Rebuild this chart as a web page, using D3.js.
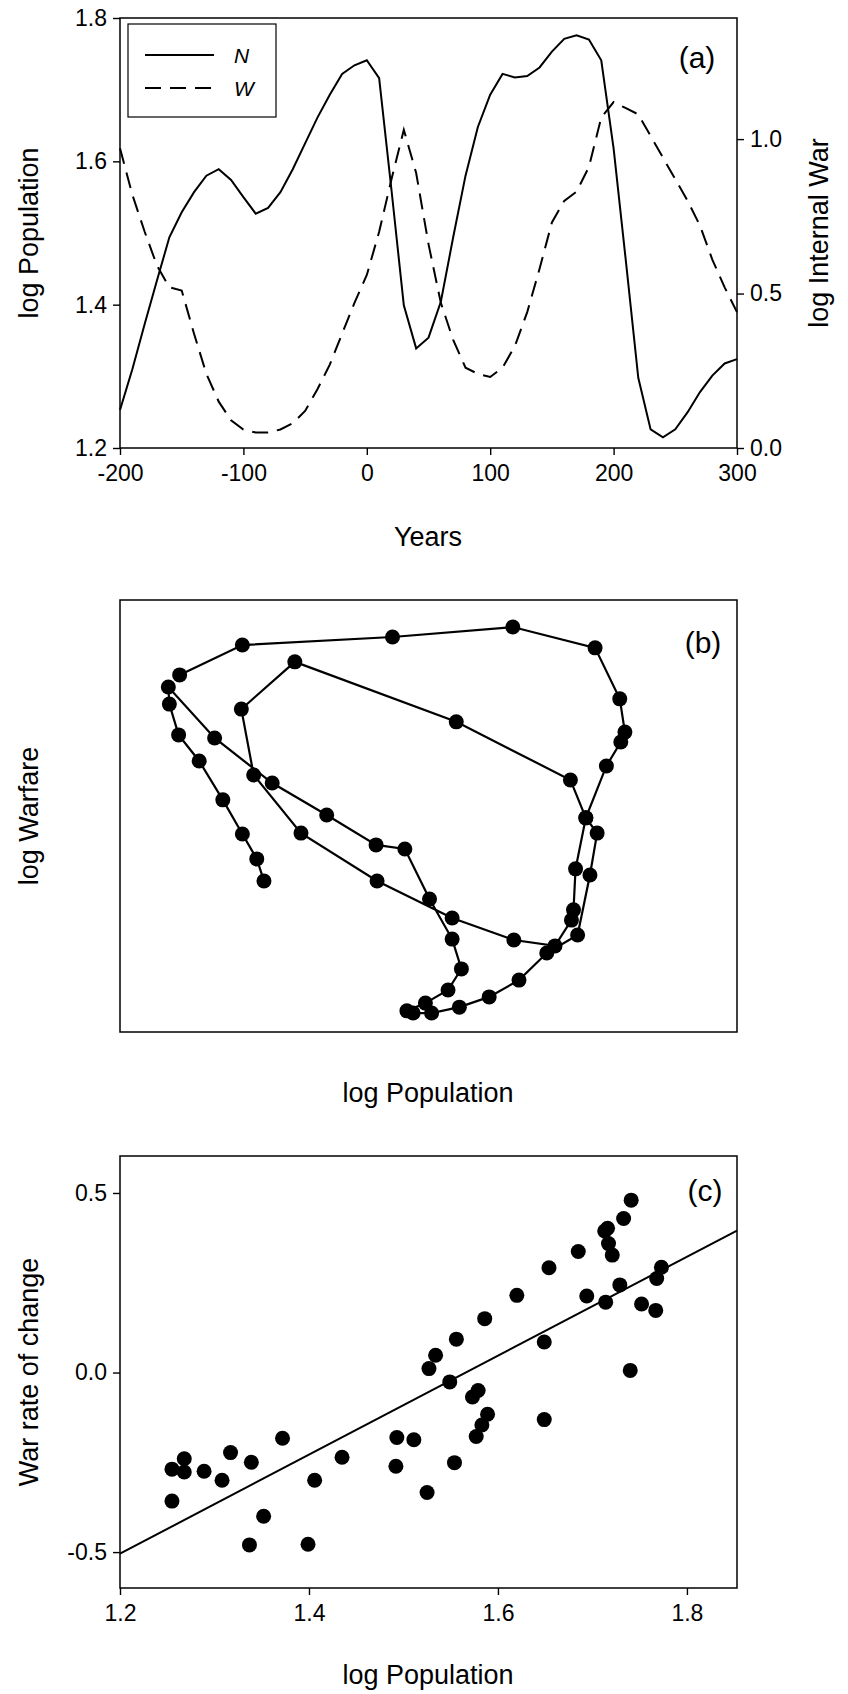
<!DOCTYPE html>
<html>
<head>
<meta charset="utf-8">
<script src="https://cdn.jsdelivr.net/npm/d3@7"></script>
<style>
  body { margin: 0; background: #fff; }
  text { font-family: "Liberation Sans", Arial, sans-serif; fill: #000; }
</style>
</head>
<body>
<script>
const width = 848, height = 1694;

// panel (a): time series, every 10 years
const years = d3.range(-200, 301, 10);
const logN = [1.253, 1.31, 1.373, 1.434, 1.494, 1.529, 1.557, 1.58, 1.589, 1.574,
  1.55, 1.527, 1.535, 1.557, 1.589, 1.625, 1.661, 1.693, 1.722, 1.734,
  1.741, 1.716, 1.56, 1.399, 1.339, 1.354, 1.404, 1.494, 1.58, 1.648,
  1.693, 1.722, 1.717, 1.719, 1.731, 1.753, 1.771, 1.776, 1.77, 1.741,
  1.618, 1.46, 1.298, 1.226, 1.215, 1.226, 1.25, 1.278, 1.301, 1.318, 1.324];
const logW = [0.97, 0.82, 0.70, 0.59, 0.52, 0.51, 0.37, 0.24, 0.15, 0.09,
  0.06, 0.05, 0.05, 0.06, 0.08, 0.12, 0.19, 0.27, 0.37, 0.47,
  0.56, 0.70, 0.87, 1.03, 0.89, 0.66, 0.47, 0.35, 0.26, 0.24,
  0.23, 0.26, 0.33, 0.44, 0.58, 0.73, 0.80, 0.83, 0.91, 1.07,
  1.12, 1.10, 1.08, 1.01, 0.94, 0.87, 0.80, 0.72, 0.61, 0.52, 0.44];
const yearTicks = [-200, -100, 0, 100, 200, 300];
const popTicks = [1.2, 1.4, 1.6, 1.8];
const warTicks = [0.0, 0.5, 1.0];

// panel (b): phase plot, in trajectory order
const phaseN = [1.340, 1.333, 1.319, 1.300, 1.277, 1.257, 1.248, 1.247, 1.292, 1.348,
  1.401, 1.449, 1.477, 1.501, 1.523, 1.532, 1.519, 1.497, 1.479, 1.485,
  1.503, 1.530, 1.559, 1.588, 1.615, 1.645, 1.657, 1.664, 1.653, 1.638,
  1.527, 1.370, 1.318, 1.330, 1.376, 1.450, 1.523, 1.583, 1.623, 1.639,
  1.641, 1.643, 1.653, 1.673, 1.687, 1.691, 1.686, 1.662, 1.582, 1.465,
  1.319, 1.258];
const phaseW = [0.486, 0.557, 0.637, 0.747, 0.872, 0.956, 1.055, 1.110, 0.946, 0.801,
  0.698, 0.602, 0.589, 0.428, 0.299, 0.203, 0.135, 0.093, 0.068, 0.061,
  0.061, 0.080, 0.113, 0.167, 0.254, 0.312, 0.505, 0.640, 0.689, 0.811,
  0.998, 1.191, 1.039, 0.827, 0.640, 0.486, 0.367, 0.296, 0.277, 0.360,
  0.393, 0.525, 0.689, 0.856, 0.933, 0.965, 1.072, 1.236, 1.303, 1.271,
  1.245, 1.149];

// panel (c): war rate of change vs population
const scatN = [1.255, 1.255, 1.268, 1.268, 1.289, 1.308, 1.317, 1.339, 1.337, 1.352,
  1.372, 1.399, 1.406, 1.435, 1.492, 1.493, 1.511, 1.525, 1.527, 1.534,
  1.549, 1.554, 1.556, 1.573, 1.579, 1.577, 1.583, 1.589, 1.586, 1.620,
  1.649, 1.649, 1.654, 1.685, 1.694, 1.713, 1.716, 1.717, 1.721, 1.714,
  1.729, 1.733, 1.741, 1.740, 1.752, 1.767, 1.768, 1.773];
const scatR = [-0.269, -0.358, -0.240, -0.277, -0.275, -0.300, -0.223, -0.250, -0.480, -0.400,
  -0.183, -0.478, -0.300, -0.236, -0.261, -0.181, -0.187, -0.334, 0.011, 0.048,
  -0.026, -0.251, 0.093, -0.068, -0.050, -0.178, -0.146, -0.116, 0.150, 0.215,
  0.085, -0.131, 0.292, 0.337, 0.213, 0.394, 0.402, 0.359, 0.327, 0.196,
  0.244, 0.429, 0.480, 0.006, 0.191, 0.173, 0.262, 0.293];
const fitSlope = 1.378, fitIntercept = -2.158;
const rateTicks = [-0.5, 0.0, 0.5];
const nTicksC = [1.2, 1.4, 1.6, 1.8];

const svg = d3.select('body').append('svg')
  .attr('width', width).attr('height', height);

const left = 120, right = 737;
const fmt1 = d => d3.format('.1f')(d).replace('\u2212', '-');
const fmtInt = d => String(d);

function box(g, top, bottom) {
  g.append('rect').attr('x', left).attr('y', top)
    .attr('width', right - left).attr('height', bottom - top)
    .attr('fill', 'none').attr('stroke', '#000').attr('stroke-width', 1.5);
}

function styleAxis(g) {
  g.select('.domain').remove();
  g.selectAll('.tick line').attr('stroke', '#000').attr('stroke-width', 1.4);
  g.selectAll('.tick text').style('font-size', '23px').style('font-family', '"Liberation Sans", Arial, sans-serif');
}

function vLabel(x, y, txt) {
  svg.append('text').attr('transform', `translate(${x},${y}) rotate(-90)`)
    .attr('text-anchor', 'middle').style('font-size', '27px').text(txt);
}
function hLabel(x, y, txt, size) {
  return svg.append('text').attr('x', x).attr('y', y)
    .attr('text-anchor', 'middle').style('font-size', (size || 27) + 'px').text(txt);
}

// ---- panel (a)
const aTop = 18, aBot = 448;
const xA = d3.scaleLinear().domain([-200, 300]).range([left, right]);
const yN = d3.scaleLinear().domain([1.2, 1.8]).range([aBot, aTop]);
const yW = d3.scaleLinear().domain([0, 1.392]).range([aBot, aTop]);

const ga = svg.append('g');
ga.append('path').datum(years)
  .attr('fill', 'none').attr('stroke', '#000').attr('stroke-width', 2)
  .attr('d', d3.line().x(d => xA(d)).y((d, i) => yN(logN[i])));
ga.append('path').datum(years)
  .attr('fill', 'none').attr('stroke', '#000').attr('stroke-width', 2)
  .attr('stroke-dasharray', '16,9')
  .attr('d', d3.line().x(d => xA(d)).y((d, i) => yW(logW[i])));
box(ga, aTop, aBot);

ga.append('g').attr('transform', `translate(${left},0)`)
  .call(d3.axisLeft(yN).tickValues(popTicks).tickFormat(fmt1).tickSize(7).tickPadding(6))
  .call(styleAxis);
ga.append('g').attr('transform', `translate(${right},0)`)
  .call(d3.axisRight(yW).tickValues(warTicks).tickFormat(fmt1).tickSize(7).tickPadding(6))
  .call(styleAxis);
ga.append('g').attr('transform', `translate(0,${aBot})`)
  .call(d3.axisBottom(xA).tickValues(yearTicks).tickFormat(fmtInt).tickSize(7).tickPadding(10))
  .call(styleAxis);

// legend
ga.append('rect').attr('x', 128).attr('y', 24).attr('width', 148).attr('height', 93)
  .attr('fill', '#fff').attr('stroke', '#000').attr('stroke-width', 1.2);
ga.append('line').attr('x1', 145).attr('x2', 214).attr('y1', 55).attr('y2', 55)
  .attr('stroke', '#000').attr('stroke-width', 2);
ga.append('line').attr('x1', 145).attr('x2', 214).attr('y1', 88).attr('y2', 88)
  .attr('stroke', '#000').attr('stroke-width', 2).attr('stroke-dasharray', '16,9');
ga.append('text').attr('x', 234).attr('y', 63).style('font-size', '21px').style('font-style', 'italic').text('N');
ga.append('text').attr('x', 234).attr('y', 96).style('font-size', '21px').style('font-style', 'italic').text('W');
hLabel(697, 68, '(a)', 30);

vLabel(38, 233, 'log Population');
vLabel(828, 233, 'log Internal War');
hLabel(428, 546, 'Years');

// ---- panel (b)
const bTop = 600, bBot = 1032;
const xB = d3.scaleLinear().domain([1.2, 1.8]).range([left, right]);
const yB = d3.scaleLinear().domain([0, 1.39]).range([bBot, bTop]);
const gb = svg.append('g');
box(gb, bTop, bBot);
gb.append('path').datum(phaseN)
  .attr('fill', 'none').attr('stroke', '#000').attr('stroke-width', 2.2)
  .attr('d', d3.line().x(d => xB(d)).y((d, i) => yB(phaseW[i])));
gb.selectAll('circle').data(phaseN).join('circle')
  .attr('cx', d => xB(d)).attr('cy', (d, i) => yB(phaseW[i])).attr('r', 7.5).attr('fill', '#000');
hLabel(703, 653, '(b)', 30);
vLabel(38, 816, 'log Warfare');
hLabel(428, 1102, 'log Population');

// ---- panel (c)
const cTop = 1156, cBot = 1588;
const xC = d3.scaleLinear().domain([1.2, 1.853]).range([left, right]);
const yC = d3.scaleLinear().domain([-0.6, 0.603]).range([cBot, cTop]);
const gc = svg.append('g');
box(gc, cTop, cBot);
gc.append('line')
  .attr('x1', xC(1.2)).attr('y1', yC(fitIntercept + fitSlope * 1.2))
  .attr('x2', xC(1.853)).attr('y2', yC(fitIntercept + fitSlope * 1.853))
  .attr('stroke', '#000').attr('stroke-width', 2);
gc.selectAll('circle').data(scatN).join('circle')
  .attr('cx', d => xC(d)).attr('cy', (d, i) => yC(scatR[i])).attr('r', 7.5).attr('fill', '#000');
gc.append('g').attr('transform', `translate(${left},0)`)
  .call(d3.axisLeft(yC).tickValues(rateTicks).tickFormat(fmt1).tickSize(7).tickPadding(6))
  .call(styleAxis);
gc.append('g').attr('transform', `translate(0,${cBot})`)
  .call(d3.axisBottom(xC).tickValues(nTicksC).tickFormat(fmt1).tickSize(7).tickPadding(10))
  .call(styleAxis);
hLabel(705, 1201, '(c)', 30);
vLabel(38, 1372, 'War rate of change');
hLabel(428, 1684, 'log Population');
</script>
</body>
</html>
